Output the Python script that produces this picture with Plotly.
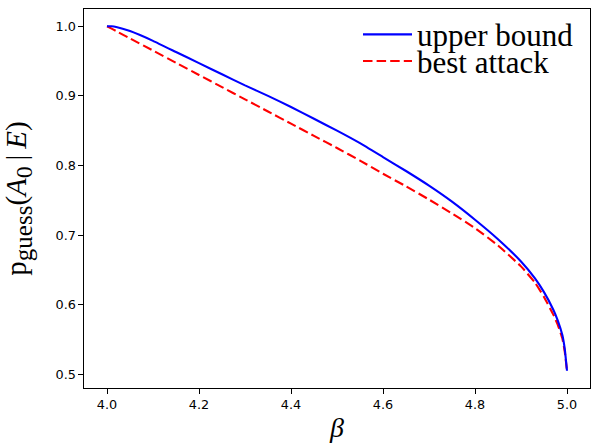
import plotly.graph_objects as go

beta = [4.0, 4.01, 4.02, 4.05, 4.1, 4.15, 4.2, 4.25, 4.3, 4.35, 4.4, 4.45, 4.5, 4.55, 4.6,
        4.65, 4.7, 4.75, 4.8, 4.85, 4.9, 4.93, 4.95, 4.97, 4.98, 4.99, 4.995, 5.0]
upper_bound = [1.0, 1.0, 0.999, 0.993, 0.979, 0.963, 0.947, 0.931, 0.915, 0.900, 0.884, 0.867,
               0.850, 0.832, 0.812, 0.792, 0.771, 0.748, 0.722, 0.694, 0.662, 0.638, 0.618,
               0.593, 0.577, 0.556, 0.537, 0.505]
best_attack = [1.0, 0.9965, 0.993, 0.9825, 0.965, 0.9475, 0.930, 0.9125, 0.895, 0.8775, 0.860,
               0.8425, 0.825, 0.807, 0.788, 0.770, 0.751, 0.731, 0.710, 0.685, 0.655, 0.632,
               0.611, 0.586, 0.571, 0.551, 0.533, 0.505]

x_ticks = [4.0, 4.2, 4.4, 4.6, 4.8, 5.0]
y_ticks = [0.5, 0.6, 0.7, 0.8, 0.9, 1.0]

fig = go.Figure()
fig.add_trace(go.Scatter(x=beta, y=best_attack, mode="lines", name="best attack",
                         legend="legend2",
                         line=dict(color="#ff0000", width=2.1, dash="9.5px,4.1px",
                                   shape="spline", smoothing=0.4)))
fig.add_trace(go.Scatter(x=beta, y=upper_bound, mode="lines", name="upper bound",
                         legend="legend",
                         line=dict(color="#0000ff", width=2.1, shape="spline", smoothing=0.4)))

axis_common = dict(showline=True, mirror=True, linecolor="black", linewidth=1.1,
                   ticks="outside", ticklen=4.5, tickwidth=1, tickcolor="black",
                   showgrid=False, zeroline=False,
                   tickfont=dict(family="DejaVu Sans", size=12.8, color="black"))

ylabel = ("p<sub><span style=\"font-size:25px\">guess</span></sub>(<i>A</i>"
          "<sub><span style=\"font-size:24px\">0</span></sub>\u2009|\u2009<i>E</i>)")

fig.update_xaxes(range=[3.95, 5.05], tickvals=x_ticks, tickformat=".1f",
                 title=dict(text="<i>β</i>", font=dict(family="Liberation Serif", size=28, color="black"),
                            standoff=6),
                 **axis_common)
fig.update_yaxes(range=[0.48025, 1.02475], tickvals=y_ticks, tickformat=".1f",
                 title=dict(text=ylabel,
                            font=dict(family="Liberation Serif", size=29, color="black"),
                            standoff=20),
                 **axis_common)

leg_common = dict(xanchor="left", yanchor="top", bgcolor="rgba(0,0,0,0)",
                  font=dict(family="Liberation Serif", size=31, color="black"),
                  itemwidth=49)

fig.update_layout(
    width=591, height=444,
    margin=dict(l=84, r=1, t=9, b=56),
    paper_bgcolor="white", plot_bgcolor="white",
    showlegend=True,
    legend=dict(x=0.5415, y=1.0034, **leg_common),
    legend2=dict(x=0.5415, y=0.933, **leg_common),
)

fig.write_html("out.html", config={"displayModeBar": False},
               post_script="document.body.style.margin='0';")
